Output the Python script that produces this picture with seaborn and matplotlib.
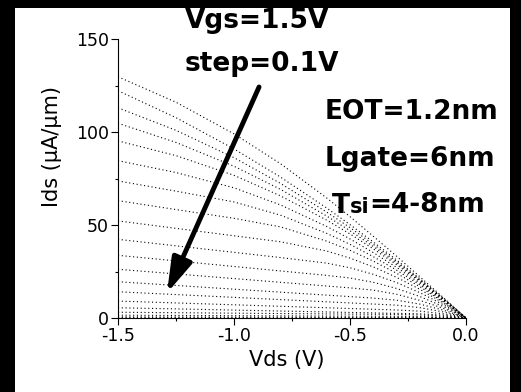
import pandas as pd
import matplotlib
matplotlib.use("Agg")
import matplotlib.pyplot as plt
from matplotlib.patches import Rectangle
from matplotlib.ticker import MultipleLocator
import seaborn as sns

# Vds sweep points (V) and one Ids row (uA/um) per gate-voltage curve
vds = [-1.5, -1.25, -1.0, -0.8, -0.6, -0.5, -0.4, -0.3, -0.2, -0.1, -0.05, 0.0]
vgs = [1.5, 1.4, 1.3, 1.2, 1.1, 1.0, 0.9, 0.8, 0.7, 0.6,
       0.5, 0.4, 0.3, 0.2, 0.1, 0.0, -0.1, -0.2, -0.3, -0.4]
ids_curves = [
    [129.7, 116.0, 99.0, 83.0, 64.5, 54.5, 44.0, 33.3, 22.3, 11.2, 5.6, 0.0],
    [122.2, 107.7, 90.9, 75.8, 59.1, 50.2, 40.9, 31.3, 21.2, 10.8, 5.5, 0.0],
    [113.0, 100.9, 86.2, 72.4, 56.9, 48.6, 39.7, 30.4, 20.7, 10.6, 5.4, 0.0],
    [104.7, 94.4, 81.6, 69.2, 54.8, 46.9, 38.5, 29.6, 20.2, 10.4, 5.2, 0.0],
    [95.2, 87.3, 76.7, 65.7, 52.6, 45.2, 37.2, 28.7, 19.7, 10.1, 5.1, 0.0],
    [84.6, 78.2, 70.0, 60.8, 49.2, 42.5, 35.2, 27.3, 18.8, 9.7, 4.9, 0.0],
    [73.7, 68.2, 62.4, 55.3, 45.5, 39.6, 33.0, 25.8, 17.9, 9.3, 4.7, 0.0],
    [63.1, 58.3, 53.6, 49.0, 41.3, 36.4, 30.6, 24.1, 16.9, 8.8, 4.5, 0.0],
    [52.2, 48.2, 44.2, 41.0, 36.0, 32.2, 27.5, 21.9, 15.5, 8.2, 4.2, 0.0],
    [42.3, 38.8, 35.3, 32.5, 29.5, 27.0, 23.5, 19.1, 13.7, 7.3, 3.8, 0.0],
    [33.7, 30.7, 27.7, 25.3, 22.9, 21.5, 19.2, 15.9, 11.6, 6.3, 3.3, 0.0],
    [26.2, 23.7, 21.2, 19.2, 17.2, 16.2, 15.0, 12.8, 9.5, 5.3, 2.8, 0.0],
    [19.5, 17.5, 15.5, 13.9, 12.3, 11.5, 10.7, 9.6, 7.5, 4.3, 2.3, 0.0],
    [14.1, 12.6, 11.1, 9.9, 8.7, 8.1, 7.5, 6.9, 5.6, 3.3, 1.8, 0.0],
    [9.1, 8.1, 7.1, 6.3, 5.5, 5.1, 4.7, 4.3, 3.7, 2.3, 1.3, 0.0],
    [5.5, 4.9, 4.25, 3.75, 3.25, 3.0, 2.75, 2.5, 2.25, 1.56, 0.89, 0.0],
    [3.1, 2.85, 2.6, 2.4, 2.2, 2.1, 2.0, 1.9, 1.64, 1.01, 0.55, 0.0],
    [1.5, 1.38, 1.26, 1.16, 1.06, 1.02, 0.97, 0.92, 0.79, 0.49, 0.26, 0.0],
    [0.6, 0.55, 0.5, 0.46, 0.42, 0.4, 0.38, 0.36, 0.31, 0.19, 0.1, 0.0],
    [0.2, 0.18, 0.17, 0.15, 0.14, 0.13, 0.13, 0.12, 0.1, 0.06, 0.03, 0.0],
]

rows = []
for g, curve in zip(vgs, ids_curves):
    for v, i in zip(vds, curve):
        rows.append({"Vgs": g, "Vds": v, "Ids": i})
df = pd.DataFrame(rows)

sns.set_style("ticks")
plt.rcParams["font.family"] = ["DejaVu Sans"]
plt.rcParams["axes.unicode_minus"] = False
for key in ["text.color", "axes.labelcolor", "xtick.color", "ytick.color", "axes.edgecolor"]:
    plt.rcParams[key] = "black"

W, H = 521, 392
fig = plt.figure(figsize=(W / 100, H / 100), dpi=100, facecolor="black")
fig.add_artist(Rectangle((15 / W, 0), 495 / W, 384 / H, transform=fig.transFigure,
                         facecolor="white", edgecolor="none", zorder=-10))
ax = fig.add_axes([118 / W, 74 / H, 348 / W, 279 / H])

sns.lineplot(data=df, x="Vds", y="Ids", units="Vgs", estimator=None,
             color="black", linewidth=0.8, ax=ax, legend=False)
for line in ax.lines:
    line.set_linestyle((0, (1, 2.4)))

ax.set_xlim(-1.5, 0)
ax.set_ylim(0, 150)
ax.xaxis.set_major_locator(MultipleLocator(0.5))
ax.xaxis.set_minor_locator(MultipleLocator(0.25))
ax.yaxis.set_major_locator(MultipleLocator(50))
ax.yaxis.set_minor_locator(MultipleLocator(25))
ax.set_xticklabels([f"{t:.1f}" for t in ax.get_xticks()])
ax.tick_params(which="major", direction="out", length=5, width=0.8,
               labelsize=12.5, pad=1.5, color="black", labelcolor="black")
ax.tick_params(which="minor", direction="out", length=2.5, width=0.8, color="black")
for s in ["top", "right"]:
    ax.spines[s].set_visible(False)
for s in ["left", "bottom"]:
    ax.spines[s].set_linewidth(0.8)
    ax.spines[s].set_color("black")

ax.set_xlabel("Vds (V)", fontsize=15, color="black")
ax.set_ylabel("Ids (\u03bcA/\u03bcm)", fontsize=15, color="black")
ax.xaxis.set_label_coords(0.486, -0.115)
ax.yaxis.set_label_coords(-0.16, 0.616)

# arrow pointing towards decreasing Vgs
ax.annotate("", xy=(-1.289, 13.4), xytext=(-0.892, 124.2),
            arrowprops=dict(arrowstyle="-|>,head_length=1.5,head_width=0.45",
                            mutation_scale=14, lw=3.5, color="black",
                            shrinkA=0, shrinkB=0))

bold = dict(fontsize=19, fontweight="bold", color="black", ha="left", va="baseline")
fig.text(185 / W, 1 - 28 / H, "Vgs=1.5V", **bold)
fig.text(185 / W, 1 - 71 / H, "step=0.1V", **bold)
fig.text(325 / W, 1 - 119 / H, "EOT=1.2nm", **bold)
fig.text(325 / W, 1 - 166 / H, "Lgate=6nm", **bold)
t1 = fig.text(332 / W, 1 - 213 / H, "T", **bold)
# smaller "si" sitting on the same baseline as "T"
t2 = ax.annotate("si", xy=(1, 0), xycoords=t1, xytext=(0, 19 * 0.236),
                 textcoords="offset points", fontsize=15, fontweight="bold",
                 color="black", ha="left", va="baseline")
ax.annotate("=4-8nm", xy=(1, 0), xycoords=t2, xytext=(0, 15 * 0.236),
            textcoords="offset points", fontsize=19, fontweight="bold",
            color="black", ha="left", va="baseline")

fig.savefig("out.png", dpi=100, facecolor=fig.get_facecolor())
